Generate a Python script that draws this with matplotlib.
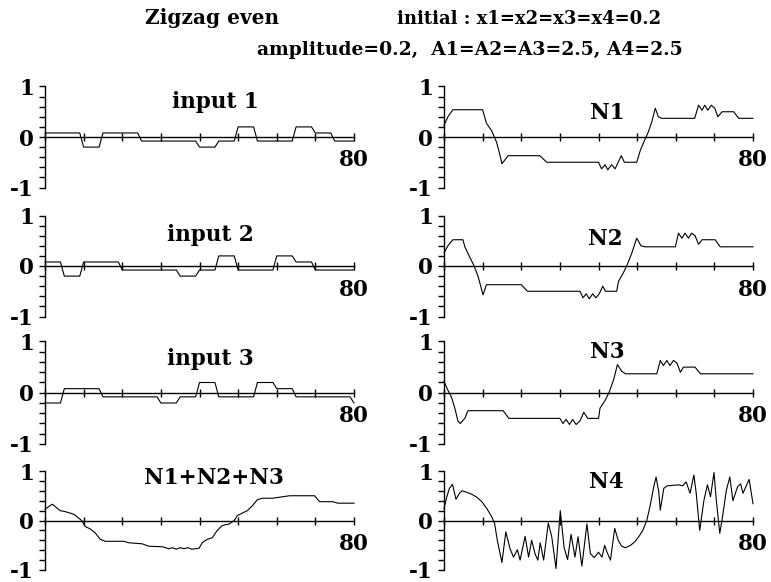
import numpy as np
import matplotlib.pyplot as plt

plt.rcParams['font.family'] = 'DejaVu Serif'
plt.rcParams['font.weight'] = 'bold'
plt.rcParams['axes.unicode_minus'] = False

# ---- data (x = step 0..80, y = activity) ----
in1_x = [0, 9, 10, 14, 15, 24, 25, 39, 40, 44, 45, 49, 50, 54, 55, 64, 65, 69, 70, 74, 75, 80]
in1_y = [.08, .08, -.2, -.2, .08, .08, -.08, -.08, -.2, -.2, -.08, -.08, .2, .2, -.08, -.08,
         .2, .2, .08, .08, -.08, -.08]

in2_x = [0, 4, 5, 9, 10, 19, 20, 34, 35, 39, 40, 44, 45, 49, 50, 59, 60, 64, 65, 69, 70, 80]
in2_y = [.08, .08, -.2, -.2, .08, .08, -.08, -.08, -.2, -.2, -.08, -.08, .2, .2, -.08, -.08,
         .2, .2, .08, .08, -.08, -.08]

in3_x = [0, 4, 5, 14, 15, 29, 30, 34, 35, 39, 40, 44, 45, 54, 55, 59, 60, 64, 65, 79, 80]
in3_y = [-.2, -.2, .08, .08, -.08, -.08, -.2, -.2, -.08, -.08, .2, .2, -.08, -.08, .2, .2,
         .08, .08, -.08, -.08, -.2]

n1_x = [0, 1, 2.3, 10, 11, 12.3, 13.6, 14.4, 15, 16.6, 24.8, 26.6, 40, 40.8, 41.7, 42.4, 43.4,
        44.3, 45.1, 45.9, 46.7, 49.9, 50.8, 51.9, 52.9, 53.8, 54.7, 55.5, 56.4, 64.9, 65.9,
        66.8, 67.5, 68.3, 69.2, 70.1, 70.9, 72, 75, 76.3, 80]
n1_y = [0.23, 0.4, 0.54, 0.54, 0.27, 0.13, -0.1, -0.33, -0.53, -0.37, -0.37, -0.5, -0.5, -0.63,
        -0.55, -0.65, -0.55, -0.63, -0.5, -0.37, -0.5, -0.5, -0.27, -0.07, 0.1, 0.3, 0.57, 0.4,
        0.37, 0.37, 0.63, 0.53, 0.63, 0.53, 0.63, 0.57, 0.4, 0.5, 0.5, 0.37, 0.37]

n2_x = [0, 1, 2.3, 4.9, 5.4, 6.7, 7.8, 8.8, 9.5, 10.1, 11, 20, 21.6, 35.2, 36, 36.8, 37.6, 38.5,
        39.3, 40.2, 41.1, 41.8, 44.7, 45.2, 46.2, 47.3, 48.6, 49.9, 51, 52, 59.9, 60.7, 61.6,
        62.4, 63.3, 64.1, 65, 65.9, 66.8, 70.2, 71.5, 80]
n2_y = [0.26, 0.4, 0.52, 0.52, 0.38, 0.17, 0.0, -0.2, -0.4, -0.57, -0.37, -0.37, -0.5, -0.5,
        -0.63, -0.55, -0.65, -0.55, -0.63, -0.55, -0.4, -0.5, -0.5, -0.3, -0.17, 0.0, 0.25,
        0.55, 0.4, 0.38, 0.38, 0.65, 0.55, 0.65, 0.55, 0.65, 0.6, 0.43, 0.52, 0.52, 0.38, 0.38]

n3_x = [0, 1, 1.9, 2.8, 3.6, 4.2, 5.4, 6.2, 15.3, 16.8, 30, 30.8, 31.6, 32.5, 33.3, 34.2, 35.2,
        36.2, 37.2, 40, 40.4, 41.7, 42.7, 43.9, 44.9, 46, 47, 55.1, 56, 56.8, 57.7, 58.5, 59.4,
        60.3, 61.2, 62, 65, 66.4, 80]
n3_y = [0.22, 0.05, -0.08, -0.3, -0.55, -0.6, -0.5, -0.35, -0.35, -0.5, -0.5, -0.6, -0.52,
        -0.62, -0.52, -0.62, -0.55, -0.38, -0.5, -0.5, -0.3, -0.15, 0.0, 0.25, 0.55, 0.42, 0.37,
        0.37, 0.63, 0.53, 0.63, 0.53, 0.63, 0.58, 0.4, 0.5, 0.5, 0.37, 0.37]

sum_x = [0, 1.9, 3.9, 5.2, 6.5, 7.6, 8.7, 9.5, 10.4, 11.7, 13, 14.3, 15.6, 20.4, 21.7, 25.1,
         26.9, 30.3, 31.2, 32, 33, 34, 35, 36, 37, 38, 39.9, 40.7, 42, 43.3, 44.6, 45.9, 47.7,
         49, 49.8, 51.1, 52.4, 53.7, 55, 56.3, 58.9, 60.7, 63.3, 65.9, 69.8, 71.1, 74.5, 75.8, 80]
sum_y = [0.23, 0.33, 0.2, 0.18, 0.15, 0.12, 0.05, 0.0, -0.12, -0.17, -0.25, -0.38, -0.42, -0.42,
         -0.45, -0.47, -0.52, -0.53, -0.55, -0.57, -0.55, -0.58, -0.55, -0.57, -0.55, -0.58,
         -0.56, -0.45, -0.38, -0.35, -0.2, -0.1, -0.07, 0.0, 0.1, 0.15, 0.2, 0.3, 0.42, 0.45,
         0.45, 0.47, 0.5, 0.5, 0.5, 0.38, 0.38, 0.35, 0.35]

n4_x = [0, 0.7, 1.4, 2.2, 3.1, 4.0, 4.7, 5.9, 7.2, 8.5, 9.8, 11.1, 12.4, 13.1, 13.8, 15.0, 16.0,
        17.1, 18.0, 19.0, 19.7, 21.0, 21.9, 22.7, 23.6, 24.3, 24.9, 25.8, 27.0, 27.9, 29.0, 30.1,
        31.1, 32.0, 32.9, 33.9, 34.7, 35.7, 37.0, 37.9, 38.9, 40.0, 40.9, 41.6, 42.2, 43.1, 44.2,
        45.1, 46.0, 47.0, 48.3, 49.4, 50.4, 51.4, 52.5, 53.4, 54.3, 54.9, 55.6, 56.0, 56.9, 57.8,
        59.1, 60.8, 61.8, 62.7, 63.7, 64.7, 65.3, 66.2, 67.3, 68.2, 69.0, 69.9, 70.5, 71.4, 72.1,
        73.1, 74.0, 74.8, 76.0, 76.8, 77.4, 79.0, 80.0]
n4_y = [0.24, 0.47, 0.65, 0.73, 0.43, 0.55, 0.6, 0.57, 0.53, 0.47, 0.38, 0.24, 0.07, -0.06,
        -0.4, -0.85, -0.23, -0.57, -0.74, -0.59, -0.8, -0.32, -0.74, -0.4, -0.68, -0.8, -0.45,
        -0.8, -0.05, -0.33, -0.97, 0.2, -0.55, -0.79, -0.28, -0.74, -0.33, -0.92, -0.07, -0.67,
        -0.75, -0.64, -0.74, -0.5, -0.64, -0.8, -0.16, -0.4, -0.52, -0.55, -0.5, -0.43, -0.33,
        -0.21, 0.0, 0.31, 0.68, 0.88, 0.58, 0.21, 0.65, 0.7, 0.71, 0.72, 0.7, 0.78, 0.55, 0.92,
        0.55, -0.2, 0.41, 0.72, 0.48, 0.97, 0.41, -0.26, 0.07, 0.61, 0.88, 0.4, 0.68, 0.74,
        0.55, 0.83, 0.34]

x_ticks = [0, 10, 20, 30, 40, 50, 60, 70, 80]
x_labels = ['', '', '', '', '', '', '', '', '80']
y_ticks = [-1, -0.8, -0.6, -0.4, -0.2, 0, 0.2, 0.4, 0.6, 0.8, 1]
y_labels = ['-1', '', '', '', '', '0', '', '', '', '', '1']

# ---- layout, in reference pixels ----
W, H = 771, 582
cols = [(45, 354), (444, 753)]
rows = [(86.5, 187.5), (215.5, 316.5), (341.5, 444), (471, 570)]

panels = [
    # (row, col, x, y, title, title_x, title_y)
    (0, 0, in1_x, in1_y, 'input 1', 44, 0.69),
    (1, 0, in2_x, in2_y, 'input 2', 42.7, 0.61),
    (2, 0, in3_x, in3_y, 'input 3', 42.7, 0.65),
    (3, 0, sum_x, sum_y, 'N1+N2+N3', 43.8, 0.86),
    (0, 1, n1_x, n1_y, 'N1', 42.2, 0.48),
    (1, 1, n2_x, n2_y, 'N2', 41.7, 0.54),
    (2, 1, n3_x, n3_y, 'N3', 42.2, 0.8),
    (3, 1, n4_x, n4_y, 'N4', 42.0, 0.78),
]

fig = plt.figure(figsize=(W / 100, H / 100), dpi=100)

for r, c, xs, ys, title, tx, ty in panels:
    x0, x1 = cols[c]
    ytop, ybot = rows[r]
    ax = fig.add_axes([x0 / W, 1 - ybot / H, (x1 - x0) / W, (ybot - ytop) / H])
    ax.patch.set_visible(False)
    ax.plot(xs, ys, color='black', lw=0.8, clip_on=False)

    ax.set_xlim(0, 80)
    ax.set_ylim(-1, 1)
    ax.spines['top'].set_visible(False)
    ax.spines['right'].set_visible(False)
    ax.spines['bottom'].set_position(('data', 0))
    ax.spines['left'].set_linewidth(1.0)
    ax.spines['bottom'].set_linewidth(1.0)

    ax.set_xticks(x_ticks)
    ax.set_xticklabels(x_labels)
    ax.set_yticks(y_ticks)
    ax.set_yticklabels(y_labels)
    ax.tick_params(axis='x', direction='inout', length=6, width=1, pad=6, labelsize=15.5)
    ax.tick_params(axis='y', direction='out', length=4, width=1, pad=4, labelsize=15.5)

    ax.text(tx, ty, title, ha='center', va='center', fontsize=15.5)

# header text
fig.text(145 / W, 1 - 18 / H, 'Zigzag even', ha='left', va='center', fontsize=14.5)
fig.text(397 / W, 1 - 19 / H, 'initial : x1=x2=x3=x4=0.2', ha='left', va='center', fontsize=13)
fig.text(683 / W, 1 - 50 / H, 'amplitude=0.2,  A1=A2=A3=2.5, A4=2.5', ha='right', va='center',
         fontsize=13.5)

fig.savefig('out.png', dpi=100)
